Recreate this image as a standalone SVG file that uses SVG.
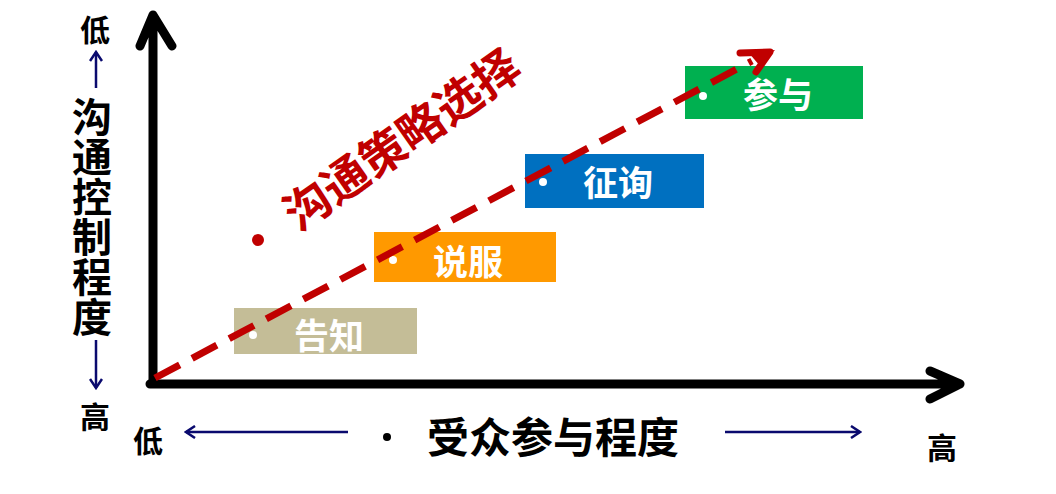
<svg xmlns="http://www.w3.org/2000/svg" width="1056" height="494" viewBox="0 0 1056 494">
<style>
.t{font-family:"Noto Sans CJK SC","Noto Sans",sans-serif;font-weight:bold}
.box{font-family:"Noto Sans CJK SC",sans-serif;font-weight:bold;font-size:35px;fill:#fff;text-anchor:middle}
.nav{stroke:#0a0a6e;stroke-width:2.5;fill:none}
.axis{stroke:#000;stroke-width:9;fill:none;stroke-linecap:round;stroke-linejoin:round}
</style>
<defs>
<marker id="nv" markerWidth="12" markerHeight="14" refX="10" refY="7" orient="auto" markerUnits="userSpaceOnUse">
<path d="M1,1 L10,7 L1,13" fill="none" stroke="#0a0a6e" stroke-width="2.5"/>
</marker>
</defs>
<rect width="1056" height="494" fill="#fff"/>
<g id="node-gaozhi">
<rect x="234" y="308" width="183" height="46" fill="#C4BD97"/>
<circle cx="253" cy="335" r="4" fill="#fff"/>
<text class="box" x="329" y="349">告知</text>
</g>
<g id="node-shuofu">
<rect x="374" y="232" width="182" height="50" fill="#FF9900"/>
<circle cx="393" cy="260" r="4" fill="#fff"/>
<text class="box" x="468" y="275">说服</text>
</g>
<g id="node-zhengxun">
<rect x="525" y="154" width="179" height="54" fill="#0070C0"/>
<circle cx="543" cy="182" r="4" fill="#fff"/>
<text class="box" x="618" y="196">征询</text>
</g>
<g id="node-canyu">
<rect x="685" y="66" width="178" height="53" fill="#00B050"/>
<circle cx="703" cy="96" r="4" fill="#fff"/>
<text class="box" x="778" y="108">参与</text>
</g>
<g id="connectors">
<path class="axis" d="M153,383 L153,15 M140,46 L153,15 L172,46"/>
<path class="axis" d="M150,384 L960,384 M930,371 L960,384 L930,399"/>
<path d="M155,378 L752,61" stroke="#C00000" stroke-width="7" stroke-dasharray="28,14" fill="none"/>
<path d="M740,53 L770,52 L756,72" fill="none" stroke="#C00000" stroke-width="7" stroke-linecap="round" stroke-linejoin="round"/>
<path d="M775,50 L748,52 L760,66 Z" fill="#C00000"/>
<path class="nav" d="M96,88 L96,52" marker-end="url(#nv)"/>
<path class="nav" d="M96,340 L96,388" marker-end="url(#nv)"/>
<path class="nav" d="M348,432 L186,432" marker-end="url(#nv)"/>
<path class="nav" d="M725,432 L860,432" marker-end="url(#nv)"/>
</g>
<g id="labels">
<text class="t" x="95" y="41" font-size="30" text-anchor="middle">低</text>
<text class="t" x="95" y="428" font-size="30" text-anchor="middle">高</text>
<text class="t" x="148" y="452" font-size="30" text-anchor="middle">低</text>
<text class="t" x="942" y="459" font-size="30" text-anchor="middle">高</text>
<text class="t" x="92" y="97" font-size="40" writing-mode="vertical-rl" style="writing-mode:vertical-rl">沟通控制程度</text>
<circle cx="387" cy="437" r="4" fill="#000"/>
<text class="t" x="553" y="453" font-size="42" text-anchor="middle">受众参与程度</text>
<circle cx="258" cy="240" r="6" fill="#C00000"/>
<text class="t" x="400" y="137" font-size="46" fill="#C00000" text-anchor="middle" dominant-baseline="central" transform="rotate(-35 400 137)">沟通策略选择</text>
</g>
</svg>
